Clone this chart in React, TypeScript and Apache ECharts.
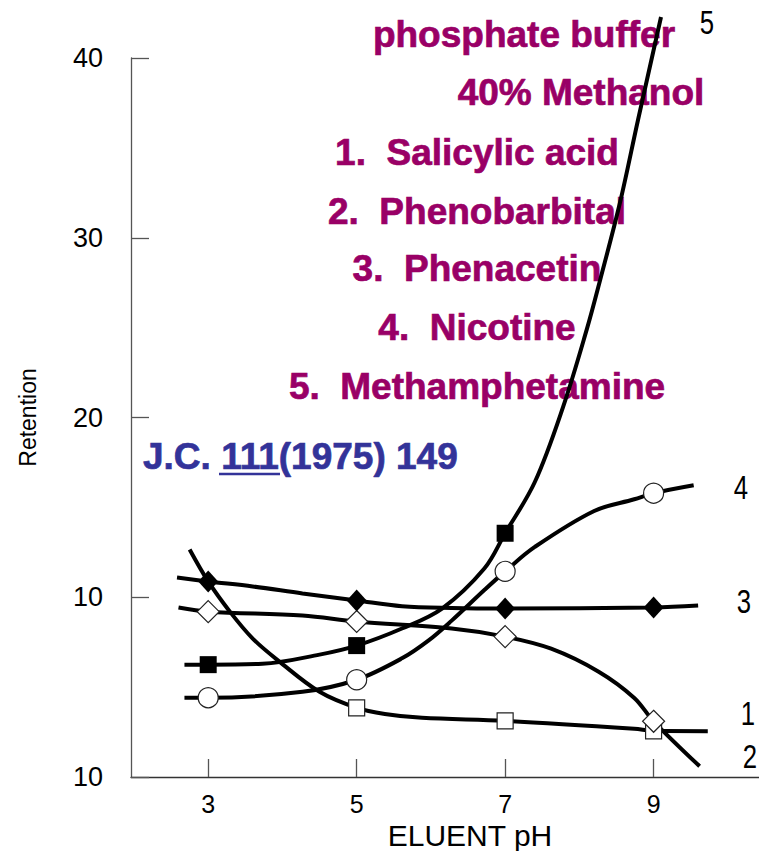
import React, { useEffect, useRef } from "react";
import * as echarts from "echarts";

// Axis ticks
const xTickValues = [3, 5, 7, 9];
const yTickValues = [0, 10, 20, 30, 40];

// Curve 1: Salicylic acid (open squares)
const ph1 = [2.75, 3.0, 3.29, 3.6, 3.96, 4.5, 5, 5.38, 5.88, 7, 8.74, 9, 9.73];
const ret1 = [12.66, 10.88, 9.21, 7.7, 6.42, 4.74, 3.85, 3.51, 3.29, 3.12, 2.68, 2.57, 2.55];
const marks1 = [5, 7, 9];

// Curve 2: Phenobarbital (open diamonds)
const ph2 = [2.6, 3, 4.27, 5, 6.28, 7, 7.62, 8.26, 8.74, 9, 9.62];
const ret2 = [9.43, 9.2, 8.98, 8.65, 8.26, 7.81, 7.14, 5.86, 4.4, 3.1, 0.6];
const marks2 = [3, 5, 7, 9];

// Curve 3: Phenacetin (filled diamonds)
const ph3 = [2.58, 3, 3.6, 4.27, 5, 5.61, 6.28, 7, 9, 9.6];
const ret3 = [11.1, 10.88, 10.6, 10.21, 9.82, 9.5, 9.4, 9.37, 9.43, 9.54];
const marks3 = [3, 5, 7, 9];

// Curve 4: Nicotine (open circles)
const ph4 = [2.68, 3, 4.27, 5, 5.61, 5.97, 6.28, 6.72, 7, 7.4, 8.2, 8.74, 9, 9.54];
const ret4 = [4.41, 4.41, 4.74, 5.41, 6.6, 7.6, 8.7, 10.4, 11.44, 12.8, 14.8, 15.45, 15.79, 16.23];
const marks4 = [3, 5, 7, 9];

// Curve 5: Methamphetamine (filled squares)
const ph5 = [2.68, 3, 3.73, 4.5, 5, 5.61, 6.15, 6.72, 7, 7.4, 7.78, 8.1, 8.28, 8.55, 8.79, 9.1];
const ret5 = [6.25, 6.25, 6.3, 6.81, 7.31, 8.26, 9.37, 11.6, 13.56, 16.41, 20.58, 24.9, 27.65, 32.0, 36.55, 42.28];
const marks5 = [3, 5, 7];

const curveNames = ["1", "2", "3", "4", "5"];
const legendLines = [
  "phosphate buffer",
  "40% Methanol",
  "1.  Salicylic acid",
  "2.  Phenobarbital",
  "3.  Phenacetin",
  "4.  Nicotine",
  "5.  Methamphetamine",
];
const citeText = "J.C. 111(1975) 149";

const SANS = "'Liberation Sans', Arial, sans-serif";
const PURPLE = "#990066";
const BLUE = "#333399";

function buildData(ph: number[], ret: number[], marks: number[]) {
  return ph.map((x, i) =>
    marks.includes(x) ? { value: [x, ret[i]] } : { value: [x, ret[i]], symbol: "none" }
  );
}

function lineSeries(
  name: string,
  ph: number[],
  ret: number[],
  marks: number[],
  symbol: string,
  size: number | number[],
  filled: boolean
) {
  return {
    name,
    type: "line",
    data: buildData(ph, ret, marks),
    smooth: 0.35,
    clip: false,
    symbol,
    symbolSize: size,
    showSymbol: true,
    lineStyle: { color: "#000", width: 4 },
    itemStyle: {
      color: filled ? "#000" : "#fff",
      borderColor: "#222",
      borderWidth: filled ? 0 : 1.2,
    },
    emphasis: { disabled: true },
    silent: true,
    z: 3,
  };
}

export default function App() {
  const ref = useRef<HTMLDivElement>(null);
  useEffect(() => {
    document.body.style.margin = "0";
    const chart = echarts.init(ref.current!, null, { renderer: "svg" });
    const legendY = [34, 92, 152, 211, 268, 327, 386];
    const legendX = [524, 581, 477, 477, 477, 477, 477];
    const curveLabelPos = [
      [748, 713],
      [750, 756],
      [744, 601],
      [741, 487],
      [707, 22],
    ];
    const graphics: any[] = [];
    legendLines.forEach((t, i) => {
      graphics.push({
        type: "text",
        x: legendX[i],
        y: legendY[i],
        z: 0,
        style: {
          text: t,
          fill: PURPLE,
          stroke: PURPLE,
          lineWidth: 0.7,
          fontSize: 37,
          fontWeight: "bold",
          fontFamily: SANS,
          textAlign: "center",
          textVerticalAlign: "middle",
        },
      });
    });
    graphics.push({
      type: "text",
      x: 143,
      y: 456,
      z: 0,
      style: {
        text: citeText,
        fill: BLUE,
        stroke: BLUE,
        lineWidth: 0.7,
        fontSize: 37,
        fontWeight: "bold",
        fontFamily: SANS,
        textAlign: "left",
        textVerticalAlign: "middle",
      },
    });
    graphics.push({
      type: "line",
      z: 0,
      shape: { x1: 219, y1: 474, x2: 280, y2: 474 },
      style: { stroke: BLUE, lineWidth: 2.5 },
    });
    curveNames.forEach((t, i) => {
      graphics.push({
        type: "text",
        x: curveLabelPos[i][0],
        y: curveLabelPos[i][1],
        scaleX: 0.78,
        z: 0,
        style: {
          text: t,
          fill: "#000",
          fontSize: 33,
          fontFamily: SANS,
          textAlign: "center",
          textVerticalAlign: "middle",
        },
      });
    });

    chart.setOption({
      animation: false,
      backgroundColor: "#fff",
      grid: { left: 131, right: 0, top: 58, bottom: 74, containLabel: false, outerBoundsMode: "none" },
      xAxis: {
        type: "value",
        min: 1.96,
        max: 10.42,
        name: "ELUENT pH",
        nameLocation: "middle",
        nameGap: 39,
        nameTextStyle: { fontSize: 30, fontFamily: SANS, color: "#000", padding: [0, 0, 0, 50] },
        axisLine: { show: true, lineStyle: { color: "#333", width: 1.3 } },
        axisTick: { show: true, inside: true, length: 18, customValues: xTickValues, lineStyle: { color: "#555", width: 1.3 } },
        axisLabel: { customValues: xTickValues, margin: 14, fontSize: 25, fontFamily: SANS, color: "#000" },
        splitLine: { show: false },
      },
      yAxis: {
        type: "value",
        min: 0,
        max: 40,
        interval: 10,
        name: "Retention",
        nameLocation: "middle",
        nameGap: 92,
        nameTextStyle: { fontSize: 23, fontFamily: SANS, color: "#000" },
        axisLine: { show: true, lineStyle: { color: "#555", width: 1.3 } },
        axisTick: { show: true, inside: true, length: 18, customValues: yTickValues, lineStyle: { color: "#555", width: 1.3 } },
        axisLabel: {
          margin: 28,
          fontSize: 27,
          fontFamily: SANS,
          color: "#000",
          formatter: (v: number) => (v === 0 ? "10" : String(v)),
        },
        splitLine: { show: false },
      },
      graphic: graphics,
      series: [
        lineSeries("1", ph1, ret1, marks1, "rect", 16, false),
        lineSeries("2", ph2, ret2, marks2, "diamond", [22, 22], false),
        lineSeries("3", ph3, ret3, marks3, "diamond", [20, 22], true),
        lineSeries("4", ph4, ret4, marks4, "circle", 20, false),
        lineSeries("5", ph5, ret5, marks5, "rect", 17, true),
      ],
    });
    return () => chart.dispose();
  }, []);
  return <div ref={ref} style={{ width: 759, height: 851 }} />;
}
